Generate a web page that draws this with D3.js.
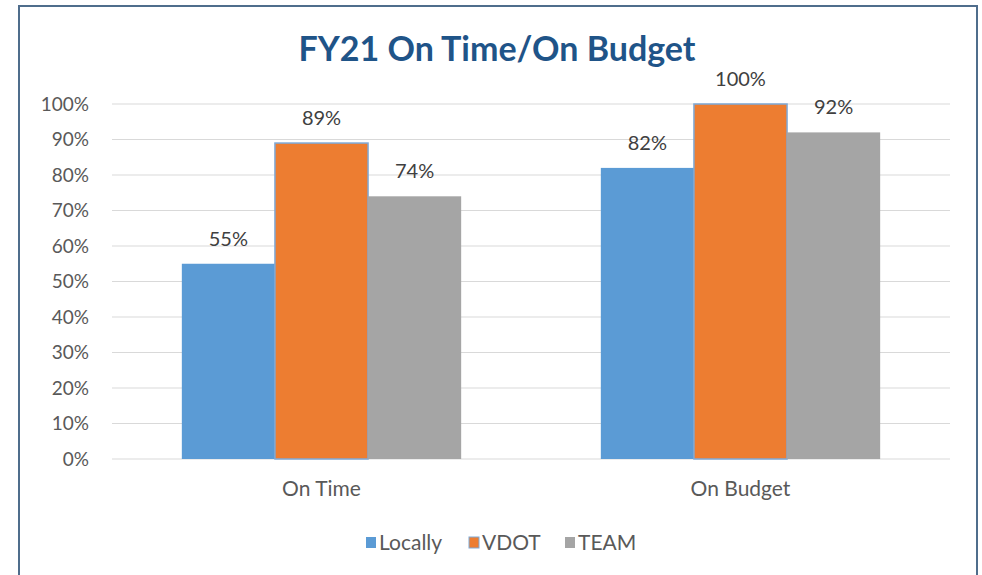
<!DOCTYPE html>
<html>
<head>
<meta charset="utf-8">
<script src="https://cdn.jsdelivr.net/npm/d3@7"></script>
<style>
  body { margin: 0; background: #fff; }
  text { font-family: Lato, "Open Sans", sans-serif; }
</style>
</head>
<body>
<svg id="plot"></svg>
<script>
// Data
const categories = ['On Time', 'On Budget'];
const seriesNames = ['Locally', 'VDOT', 'TEAM'];
const locally = [55, 82];
const vdot = [89, 100];
const team = [74, 92];
const yTicks = [0, 10, 20, 30, 40, 50, 60, 70, 80, 90, 100];

let width = 982;
let height = 575;
let colors = { Locally: '#5b9bd5', VDOT: '#ed7d31', TEAM: '#a5a5a5' };
let values = { Locally: locally, VDOT: vdot, TEAM: team };

let svg = d3.select('#plot')
    .attr('width', width)
    .attr('height', height);

// Outer frame
svg.append('rect')
    .attr('x', 19)
    .attr('y', 6)
    .attr('width', 958)
    .attr('height', 580)
    .attr('fill', '#fff')
    .attr('stroke', '#4f6d8c')
    .attr('stroke-width', 2);

// Title
svg.append('text')
    .attr('x', 497)
    .attr('y', 61)
    .attr('text-anchor', 'middle')
    .attr('font-size', 34)
    .attr('font-weight', 'bold')
    .attr('fill', '#1f5488')
    .text('FY21 On Time/On Budget');

// Scales
let xScale = d3.scaleBand()
    .domain(categories)
    .range([112, 950])
    .paddingInner(0)
    .paddingOuter(0);

let groupWidth = xScale.bandwidth() * 3 / 4.5;
let xInner = d3.scaleBand()
    .domain(seriesNames)
    .range([0, groupWidth]);

let yScale = d3.scaleLinear()
    .domain([0, 100])
    .range([459, 104]);

// Gridlines
svg.append('g')
    .selectAll('line')
    .data(yTicks)
    .enter()
    .append('line')
    .attr('x1', 112)
    .attr('x2', 950)
    .attr('y1', d => yScale(d))
    .attr('y2', d => yScale(d))
    .attr('stroke', '#d9d9d9')
    .attr('stroke-width', 1);

// Y axis labels
let yAxis = svg.append('g')
    .attr('transform', 'translate(100, 0)')
    .call(d3.axisLeft(yScale).tickValues(yTicks).tickSize(0).tickPadding(11).tickFormat(d => d + '%'));
yAxis.select('.domain').remove();
yAxis.selectAll('text')
    .attr('font-family', 'Lato, sans-serif')
    .attr('font-size', 19)
    .attr('fill', '#595959');

// Bars
let groups = svg.selectAll('.group')
    .data(categories)
    .enter()
    .append('g')
    .attr('class', 'group')
    .attr('transform', d => `translate(${xScale(d) + (xScale.bandwidth() - groupWidth) / 2}, 0)`);

groups.selectAll('rect')
    .data((c, i) => seriesNames.map(s => ({ s: s, v: values[s][i] })))
    .enter()
    .append('rect')
    .attr('x', d => xInner(d.s))
    .attr('width', xInner.bandwidth())
    .attr('y', d => yScale(d.v))
    .attr('height', d => yScale(0) - yScale(d.v))
    .attr('fill', d => colors[d.s])
    .attr('stroke', d => d.s === 'VDOT' ? '#7fa9d6' : 'none')
    .attr('stroke-width', 1.5);

// Data labels
groups.selectAll('.label')
    .data((c, i) => seriesNames.map(s => ({ s: s, v: values[s][i] })))
    .enter()
    .append('text')
    .attr('class', 'label')
    .attr('x', d => xInner(d.s) + xInner.bandwidth() / 2)
    .attr('y', d => yScale(d.v) - 18)
    .attr('text-anchor', 'middle')
    .attr('font-size', 20)
    .attr('fill', '#404040')
    .text(d => d.v + '%');

// Category labels
svg.append('g')
    .selectAll('text')
    .data(categories)
    .enter()
    .append('text')
    .attr('x', d => xScale(d) + xScale.bandwidth() / 2)
    .attr('y', 496)
    .attr('text-anchor', 'middle')
    .attr('font-size', 21)
    .attr('fill', '#595959')
    .text(d => d);

// Legend
let legendX = [366, 469, 565];
let legend = svg.selectAll('.legend')
    .data(seriesNames)
    .enter()
    .append('g')
    .attr('class', 'legend')
    .attr('transform', (d, i) => `translate(${legendX[i]}, 537)`);

legend.append('rect')
    .attr('width', 10)
    .attr('height', 11)
    .attr('fill', d => colors[d])
    .attr('stroke', d => d === 'VDOT' ? '#7fa9d6' : 'none');

legend.append('text')
    .attr('x', 13)
    .attr('y', 13)
    .attr('font-size', 21)
    .attr('fill', '#595959')
    .text(d => d);
</script>
</body>
</html>
